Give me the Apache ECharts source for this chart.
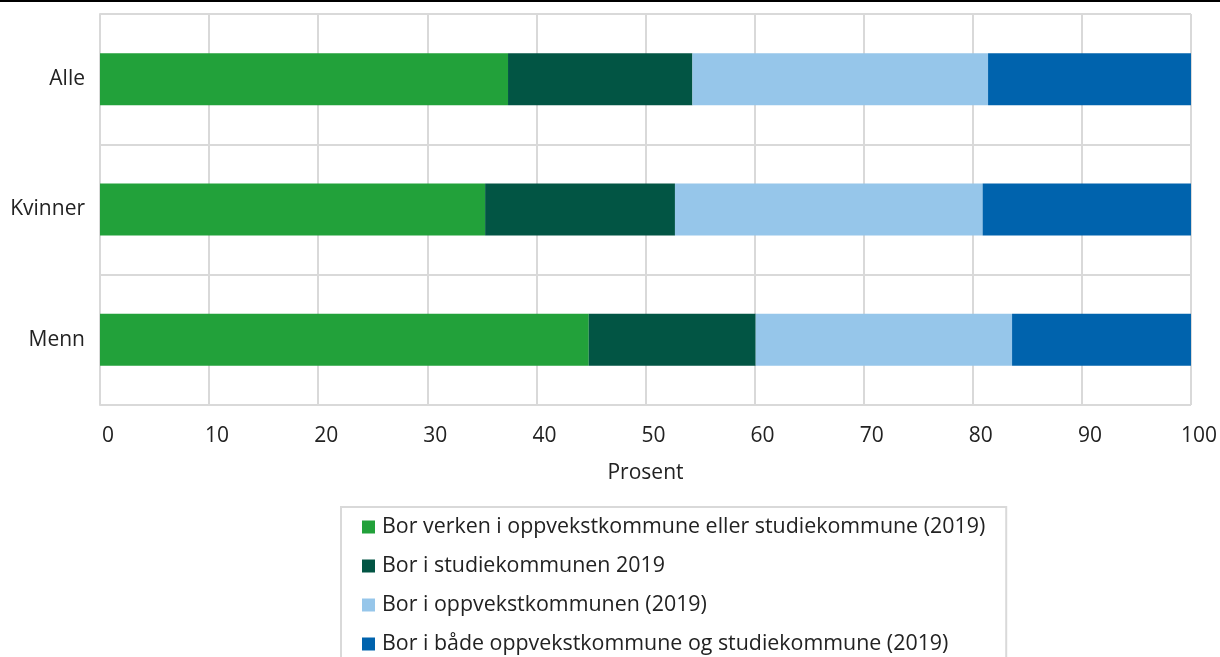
<!DOCTYPE html>
<html>
<head>
<meta charset="utf-8">
<script src="https://cdn.jsdelivr.net/npm/echarts@6/dist/echarts.min.js"></script>
<style>
  html, body { margin: 0; padding: 0; background: #fff; }
  #chart { width: 1220px; height: 657px; }
</style>
</head>
<body>
<div id="chart"></div>
<script>
// kategorier (nederst -> øverst på y-aksen)
const categories = ['Menn', 'Kvinner', 'Alle'];

// serienavn
const seriesNames = [
  'Bor verken i oppvekstkommune eller studiekommune (2019)',
  'Bor i studiekommunen 2019',
  'Bor i oppvekstkommunen (2019)',
  'Bor i både oppvekstkommune og studiekommune (2019)'
];

// verdier i prosent, samme rekkefølge som categories
const verken = [44.8, 35.3, 37.4];
const studie = [15.3, 17.4, 16.9];
const oppvekst = [23.5, 28.2, 27.1];
const begge = [16.4, 19.1, 18.6];

const colors = ['#22a13a', '#025544', '#96c6ea', '#0063ad'];
const seriesValues = [verken, studie, oppvekst, begge];

const font = '"Open Sans", "Noto Sans", sans-serif';
const chart = echarts.init(document.getElementById('chart'));

const option = {
  animation: false,
  textStyle: { fontFamily: font },
  graphic: [
    // svart strek helt øverst
    { type: 'rect', left: 0, top: 0, shape: { width: 1220, height: 2 }, style: { fill: '#000' } }
  ],
  grid: { left: 100, right: 27, top: 14, bottom: 252, containLabel: false },
  xAxis: {
    type: 'value',
    min: 0,
    max: 100,
    interval: 10,
    name: 'Prosent',
    nameLocation: 'middle',
    nameGap: 58,
    nameTextStyle: { fontSize: 21, color: '#222', fontFamily: font },
    axisLine: { show: false },
    axisTick: { show: false },
    axisLabel: { fontSize: 21, color: '#222', margin: 21, padding: [0, 0, 0, 16], fontFamily: font },
    splitLine: { show: true, lineStyle: { color: '#d9d9d9', width: 2 } }
  },
  yAxis: {
    type: 'category',
    data: categories,
    axisLine: { show: true, lineStyle: { color: '#d9d9d9', width: 2 } },
    axisTick: { show: false },
    axisLabel: { fontSize: 21, color: '#222', margin: 15, fontFamily: font },
    splitLine: { show: true, lineStyle: { color: '#d9d9d9', width: 2 } }
  },
  legend: {
    orient: 'vertical',
    left: 341,
    top: 507,
    height: 200,
    padding: [8, 21, 10, 21],
    itemGap: 15,
    itemWidth: 13,
    itemHeight: 13,
    borderColor: '#d9d9d9',
    borderWidth: 2,
    icon: 'rect',
    textStyle: { fontSize: 21.4, color: '#222', lineHeight: 24, padding: [0, 0, 0, 2], fontFamily: font },
    data: seriesNames
  },
  series: seriesNames.map((name, i) => ({
    name: name,
    type: 'bar',
    stack: 'total',
    barWidth: 52,
    itemStyle: { color: colors[i] },
    data: seriesValues[i]
  }))
};

chart.setOption(option);
</script>
</body>
</html>
